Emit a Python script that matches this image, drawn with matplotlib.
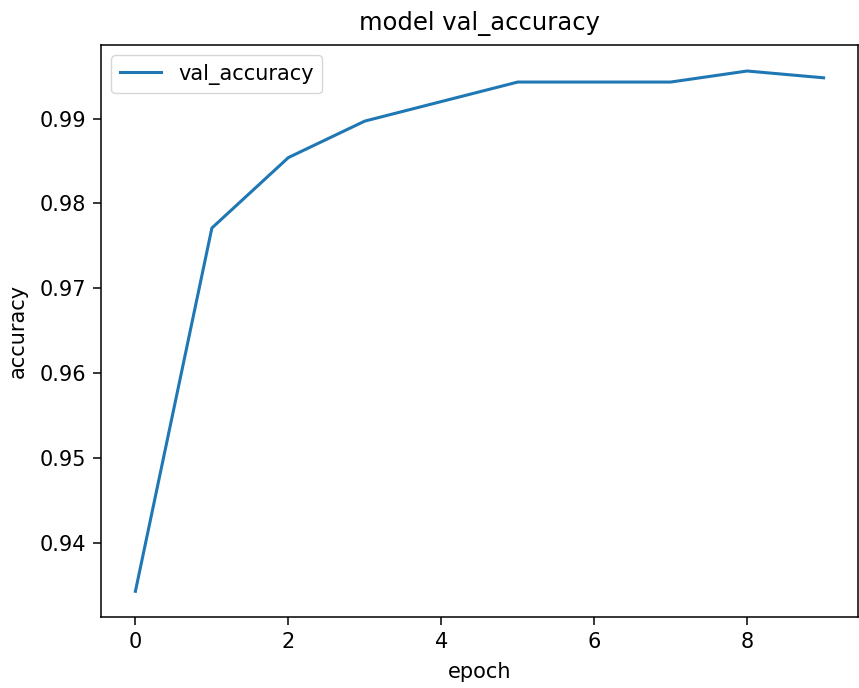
import matplotlib
matplotlib.use("Agg")
import matplotlib.pyplot as plt

epochs = [0, 1, 2, 3, 4, 5, 6, 7, 8, 9]
val_accuracy = [0.9343, 0.9771, 0.9854, 0.9897, 0.9920, 0.9943, 0.9943, 0.9943, 0.9956, 0.9948]

plt.rcParams['font.size'] = 15
fig = plt.figure(figsize=(8.59, 6.88), dpi=100)
ax = fig.add_axes([101/859, 1-617.3/688, (858-101)/859, (617.3-45)/688])
ax.plot(epochs, val_accuracy, color='#1f77b4', linewidth=2.2, label='val_accuracy')
ax.set_title('model val_accuracy', fontsize=17.5, pad=11)
ax.set_xlabel('epoch', fontsize=15, labelpad=7)
ax.set_ylabel('accuracy', fontsize=15, labelpad=9)
ax.tick_params(labelsize=15, length=5.5, width=1.1, pad=5)
for s in ax.spines.values():
    s.set_linewidth(1.1)
ax.legend(loc='upper left', fontsize=15)
fig.savefig('out.png', dpi=100)
